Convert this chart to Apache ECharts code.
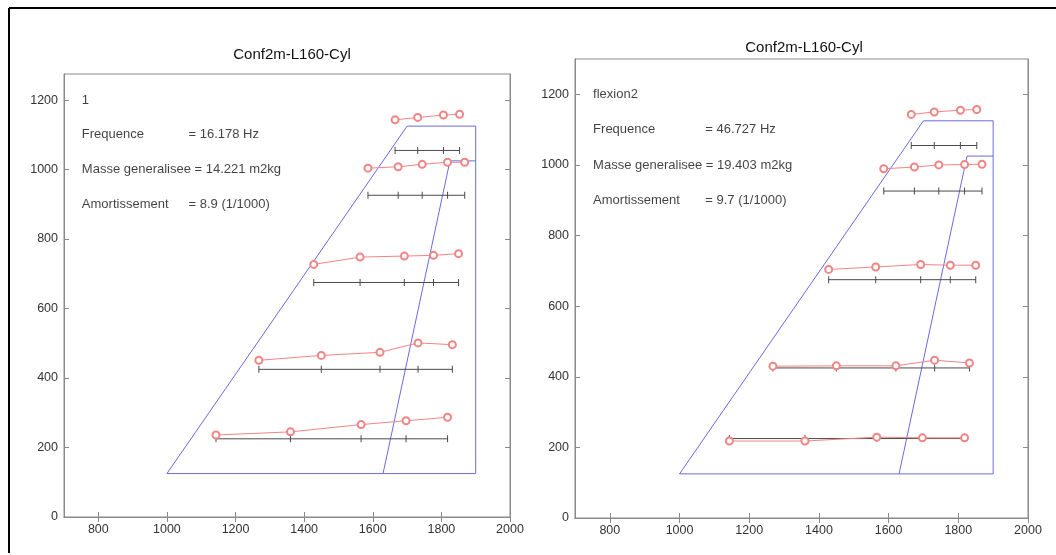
<!DOCTYPE html>
<html>
<head>
<meta charset="utf-8">
<script src="https://cdn.jsdelivr.net/npm/echarts@6/dist/echarts.min.js"></script>
<style>html,body{margin:0;padding:0;background:#fff}#c{width:1056px;height:555px}</style>
</head>
<body>
<div id="c"></div>
<script>
// ---- data ----
const chartTitles = ['Conf2m-L160-Cyl', 'Conf2m-L160-Cyl'];
const xTicks = [800, 1000, 1200, 1400, 1600, 1800, 2000];
const yTicks = [0, 200, 400, 600, 800, 1000, 1200];

// wing planform outlines
const outerX = [1000, 1700, 1900, 1900, 1000];
const outerY = [125, 1125, 1125, 125, 125];
const innerX = [1630, 1825, 1900];
const innerY = [125, 1025, 1025];

// sensor rows: x positions and undeformed y level
const rowX = [
  [1665, 1731, 1806, 1853],
  [1586, 1674, 1744, 1818, 1868],
  [1428, 1563, 1692, 1777, 1850],
  [1268, 1450, 1621, 1732, 1832],
  [1143, 1360, 1566, 1697, 1818]
];
const rowY = [1055, 926, 675, 425, 225];

// deformed shapes (red)
const mode1Y = [
  [1143, 1150, 1157, 1159],
  [1004, 1008, 1015, 1021, 1021],
  [727, 748, 751, 753, 758],
  [451, 465, 474, 501, 496],
  [236, 245, 266, 277, 287]
];
const mode2Y = [
  [1143, 1150, 1155, 1157],
  [989, 994, 1000, 1001, 1002],
  [704, 711, 718, 716, 716],
  [430, 431, 431, 447, 439],
  [218, 218, 229, 227, 227]
];

// annotations
const mode1Names = ['1', 'Frequence', '= 16.178 Hz', 'Masse generalisee = 14.221 m2kg', 'Amortissement', '= 8.9 (1/1000)'];
const mode2Names = ['flexion2', 'Frequence', '= 46.727 Hz', 'Masse generalisee = 19.403 m2kg', 'Amortissement', '= 9.7 (1/1000)'];
const mode1TextX = [752, 752, 1063, 752, 752, 1063];
const mode2TextX = [752, 752, 1074, 752, 752, 1074];
const textY = [1200, 1100, 1100, 1000, 900, 900];

const yMax = [1275, 1300];

// ---- chart ----
const FONT = 'Liberation Sans, Arial, sans-serif';
const BLUE = '#6a6ae0', RED = '#f08585', BLACK = '#4a4a4a', AXIS = '#8a8a8a';
const grids = [
  {left: 64, top: 74, width: 446, height: 443},
  {left: 575, top: 59, width: 453, height: 459}
];

const xAxes = [], yAxes = [], series = [];
const deformed = [mode1Y, mode2Y];
const names = [mode1Names, mode2Names];
const textXs = [mode1TextX, mode2TextX];
const plain = v => String(v);

grids.forEach((g, i) => {
  const base = {
    type: 'value', gridIndex: i, min: 700, max: 2000,
    splitLine: {show: false},
    axisLine: {show: true, lineStyle: {color: AXIS}},
  };
  xAxes.push(Object.assign({}, base, {
    position: 'bottom',
    axisTick: {show: true, inside: true, length: 5, customValues: xTicks, lineStyle: {color: AXIS}},
    axisLabel: {customValues: xTicks, formatter: plain, color: '#333', fontSize: 12.5, fontFamily: FONT, margin: 6}
  }));
  xAxes.push(Object.assign({}, base, {
    position: 'top',
    axisTick: {show: true, inside: true, length: 5, customValues: xTicks, lineStyle: {color: AXIS}},
    axisLabel: {show: false}
  }));
  const ybase = {
    type: 'value', gridIndex: i, min: 0, max: yMax[i],
    splitLine: {show: false},
    axisLine: {show: true, lineStyle: {color: AXIS}},
  };
  yAxes.push(Object.assign({}, ybase, {
    position: 'left',
    axisTick: {show: true, inside: true, length: 5, customValues: yTicks, lineStyle: {color: AXIS}},
    axisLabel: {customValues: yTicks, formatter: plain, color: '#333', fontSize: 12.5, fontFamily: FONT, margin: 6}
  }));
  yAxes.push(Object.assign({}, ybase, {
    position: 'right',
    axisTick: {show: true, inside: true, length: 5, customValues: yTicks, lineStyle: {color: AXIS}},
    axisLabel: {show: false}
  }));

  const xi = i * 2, yi = i * 2;
  const lineBase = {type: 'line', xAxisIndex: xi, yAxisIndex: yi, animation: false, silent: true};

  series.push(Object.assign({}, lineBase, {
    data: outerX.map((x, k) => [x, outerY[k]]),
    showSymbol: false, lineStyle: {color: BLUE, width: 1}
  }));
  series.push(Object.assign({}, lineBase, {
    data: innerX.map((x, k) => [x, innerY[k]]),
    showSymbol: false, lineStyle: {color: BLUE, width: 1}
  }));
  rowX.forEach((xs, r) => {
    series.push(Object.assign({}, lineBase, {
      data: xs.map(x => [x, rowY[r]]),
      symbol: 'rect', symbolSize: [1, 7], showAllSymbol: true,
      itemStyle: {color: BLACK},
      lineStyle: {color: BLACK, width: 1}
    }));
  });
  rowX.forEach((xs, r) => {
    series.push(Object.assign({}, lineBase, {
      data: xs.map((x, k) => [x, deformed[i][r][k]]),
      symbol: 'emptyCircle', symbolSize: 7, showAllSymbol: true,
      itemStyle: {color: RED, borderColor: RED, borderWidth: 1},
      lineStyle: {color: RED, width: 1}
    }));
  });
  series.push({
    type: 'scatter', xAxisIndex: xi, yAxisIndex: yi, animation: false, silent: true,
    symbolSize: 0,
    data: names[i].map((n, k) => ({name: n, value: [textXs[i][k], textY[k]]})),
    label: {
      show: true, formatter: '{b}', position: [0, 0], align: 'left', verticalAlign: 'middle',
      color: '#111', fontSize: 13, fontFamily: FONT
    }
  });
});

const chart = echarts.init(document.getElementById('c'), null, {renderer: 'canvas'});
chart.setOption({
  backgroundColor: '#fff',
  animation: false,
  title: [
    {text: chartTitles[0], left: 287, top: 42, textAlign: 'center',
     textStyle: {fontSize: 15, fontWeight: 'normal', color: '#111', fontFamily: FONT}},
    {text: chartTitles[1], left: 799, top: 35, textAlign: 'center',
     textStyle: {fontSize: 15, fontWeight: 'normal', color: '#111', fontFamily: FONT}}
  ],
  grid: grids.map(g => Object.assign({show: true, borderColor: AXIS, borderWidth: 1, backgroundColor: '#fff'}, g)),
  xAxis: xAxes,
  yAxis: yAxes,
  series: series,
  graphic: [
    {type: 'line', shape: {x1: 9, y1: 8, x2: 1056, y2: 8}, style: {stroke: '#000', lineWidth: 2}},
    {type: 'line', shape: {x1: 9, y1: 8, x2: 9, y2: 553}, style: {stroke: '#000', lineWidth: 2}}
  ]
});
</script>
</body>
</html>
